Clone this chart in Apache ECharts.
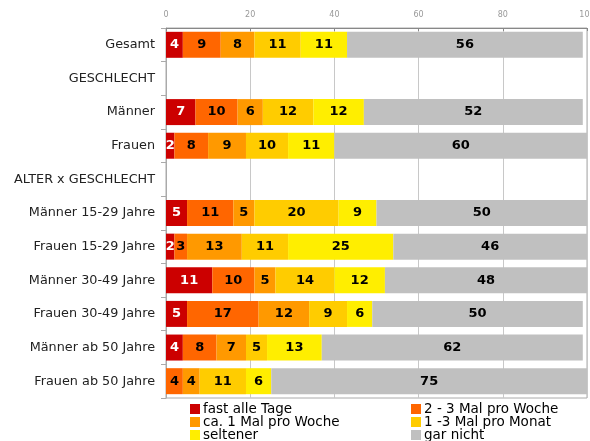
<!DOCTYPE html>
<html>
<head>
<meta charset="utf-8">
<script src="https://cdn.jsdelivr.net/npm/echarts@6/dist/echarts.min.js"></script>
<style>
  html, body { margin: 0; padding: 0; background: #fff; }
  #chart { width: 590px; height: 441px; }
</style>
</head>
<body>
<div id="chart"></div>
<script>
// Row labels, top to bottom
const categories = [
  'Gesamt', 'GESCHLECHT', 'Männer', 'Frauen', 'ALTER x GESCHLECHT',
  'Männer 15-29 Jahre', 'Frauen 15-29 Jahre', 'Männer 30-49 Jahre',
  'Frauen 30-49 Jahre', 'Männer ab 50 Jahre', 'Frauen ab 50 Jahre'
];

const seriesNames = [
  'fast alle Tage', '2 - 3 Mal pro Woche', 'ca. 1 Mal pro Woche',
  '1 -3 Mal pro Monat', 'seltener', 'gar nicht'
];

// Percent shares per row (null = heading row without bar)
const fastAlleTage   = [4, null, 7, 2, null, 5, 2, 11, 5, 4, 0];
const zweiDreiWoche  = [9, null, 10, 8, null, 11, 3, 10, 17, 8, 4];
const einmalWoche    = [8, null, 6, 9, null, 5, 13, 5, 12, 7, 4];
const einDreiMonat   = [11, null, 12, 10, null, 20, 11, 14, 9, 5, 11];
const seltener       = [11, null, 12, 11, null, 9, 25, 12, 6, 13, 6];
const garNicht       = [56, null, 52, 60, null, 50, 46, 48, 50, 62, 75];

const xTicks = [0, 20, 40, 60, 80, 100];

const colors = ['#CC0000', '#FF6600', '#FF9900', '#FFCC00', '#FFEE00', '#C0C0C0'];
const values = [fastAlleTage, zweiDreiWoche, einmalWoche, einDreiMonat, seltener, garNicht];

const font = 'DejaVu Sans, Verdana, sans-serif';

const chart = echarts.init(document.getElementById('chart'), null, { renderer: 'canvas' });

const series = values.map((arr, i) => ({
  name: seriesNames[i],
  type: 'bar',
  stack: 'total',
  barWidth: 26,
  data: arr,
  itemStyle: { color: colors[i] },
  label: {
    show: true,
    position: 'inside',
    fontFamily: font,
    fontSize: 13,
    fontWeight: 'bold',
    color: i === 0 ? '#fff' : '#000',
    formatter: p => (p.value ? String(p.value) : '')
  },
  emphasis: { disabled: true }
}));

const legendText = {
  fontFamily: font, fontSize: 13.5, color: '#000', lineHeight: 13, padding: [0, 0, 0, -2]
};

// Two legend columns, three entries each
const legendColumn = (left, names) => ({
  orient: 'vertical', left: left, top: 402, width: 200, height: 60, itemGap: -1,
  icon: 'rect', itemWidth: 10, itemHeight: 10,
  textStyle: legendText,
  data: names,
  selectedMode: false, padding: 0
});

chart.setOption({
  animation: false,
  color: colors,
  grid: {
    left: 166, right: 3, top: 28, height: 370,
    containLabel: false,
    outerBoundsMode: 'none',
    show: true, borderColor: '#aaa', borderWidth: 1
  },
  xAxis: {
    type: 'value',
    position: 'top',
    min: 0, max: 100, interval: 20,
    axisLine: { show: true, lineStyle: { color: '#888' } },
    axisTick: { show: true, inside: true, length: 3, lineStyle: { color: '#888' } },
    axisLabel: {
      fontFamily: font, fontSize: 8, color: '#999', margin: 9,
      formatter: v => (xTicks.includes(v) ? String(v) : '')
    },
    splitLine: { show: true, lineStyle: { color: '#c8c8c8', width: 1 } }
  },
  yAxis: {
    type: 'category',
    inverse: true,
    data: categories,
    axisLine: { show: true, lineStyle: { color: '#aaa' } },
    axisTick: { show: true, length: 5, lineStyle: { color: '#aaa' } },
    axisLabel: { fontFamily: font, fontSize: 12.8, color: '#222', margin: 11 }
  },
  legend: [
    legendColumn(190, [seriesNames[0], seriesNames[2], seriesNames[4]]),
    legendColumn(411, [seriesNames[1], seriesNames[3], seriesNames[5]])
  ],
  series: series
});
</script>
</body>
</html>
